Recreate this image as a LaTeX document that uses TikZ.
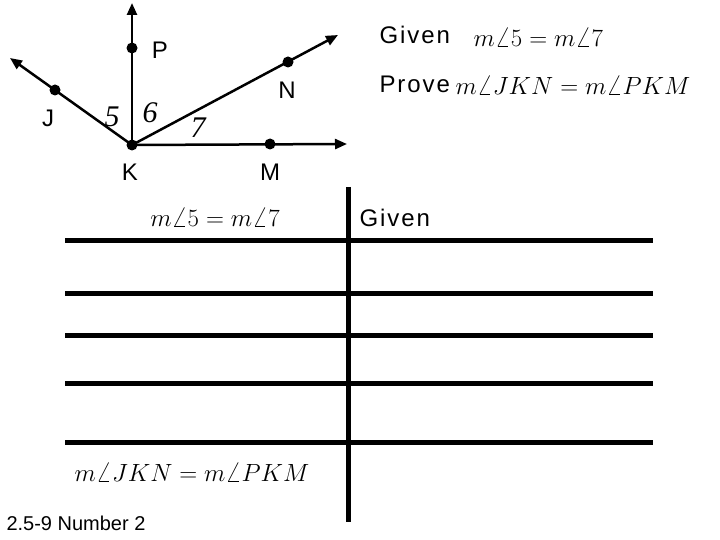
\documentclass[tikz,border=0pt]{standalone}
\usepackage{fontspec}
\setmainfont{Liberation Serif}
\setsansfont{Liberation Sans}
\newfontfamily\widesans[LetterSpace=8]{Liberation Sans}
\usetikzlibrary{arrows.meta}
\begin{document}
\begin{tikzpicture}[x=1pt,y=-1pt,
  ray/.style={line width=2.5pt,-{Triangle[length=12pt,width=10pt]}},
  dot/.style={circle,fill,inner sep=0pt,minimum size=11pt},
  lab/.style={font=\widesans\fontsize{24}{24}\selectfont},
  ang/.style={font=\fontsize{30}{30}\selectfont\itshape},
  math/.style={font=\fontsize{28}{28}\selectfont}]
\tikzset{rule/.style={line width=5pt}}
\useasboundingbox (0,0) rectangle (720,540);
\node[dot] (K) at (132,145) {};
\node[dot] (P) at (132,48) {};
\node[dot] (N) at (288,62) {};
\node[dot] (J) at (55,90) {};
\node[dot] (M) at (270,144) {};
\coordinate (Pe) at (132,3);
\coordinate (Ne) at (338,35);
\coordinate (Je) at (10,58);
\coordinate (Me) at (347,144);
\draw[ray] (K.center) -- (Pe);
\draw[ray] (K.center) -- (Ne);
\draw[ray] (K.center) -- (Je);
\draw[ray] (K.center) -- (Me);
\node[lab] (lP) at (160,50) {P};
\node[lab] (lN) at (287,90) {N};
\node[lab] (lJ) at (48,118) {J};
\node[lab] (lK) at (130,172) {K};
\node[lab] (lM) at (270,172) {M};
\node[ang] (a5) at (112,117) {5};
\node[ang] (a6) at (150,113) {6};
\node[ang] (a7) at (198,128) {7};
\node[lab,anchor=west] (giv) at (376,35) {Given};
\node[math,anchor=west] (gm) at (470,37) {$m\angle 5 = m\angle 7$};
\node[lab,anchor=west] (prv) at (376,84) {Prove};
\node[math,anchor=west] (pm) at (452,85) {$m\angle JKN = m\angle PKM$};
\foreach \y/\n in {240/h1,293/h2,335/h3,383/h4,442/h5}{
  \coordinate (\n a) at (65,\y); \coordinate (\n b) at (653,\y);
  \draw[rule] (\n a) -- (\n b);}
\coordinate (va) at (348,187); \coordinate (vb) at (348,522);
\draw[rule] (va) -- (vb);
\node[math] (s1) at (215,217) {$m\angle 5 = m\angle 7$};
\node[lab,anchor=west] (r1) at (356,218) {Given};
\node[math] (s6) at (192,472) {$m\angle JKN = m\angle PKM$};
\node[font=\sffamily\fontsize{20}{20}\selectfont,anchor=west] (ft) at (3,523) {2.5-9 Number 2};
\end{tikzpicture}
\end{document}
